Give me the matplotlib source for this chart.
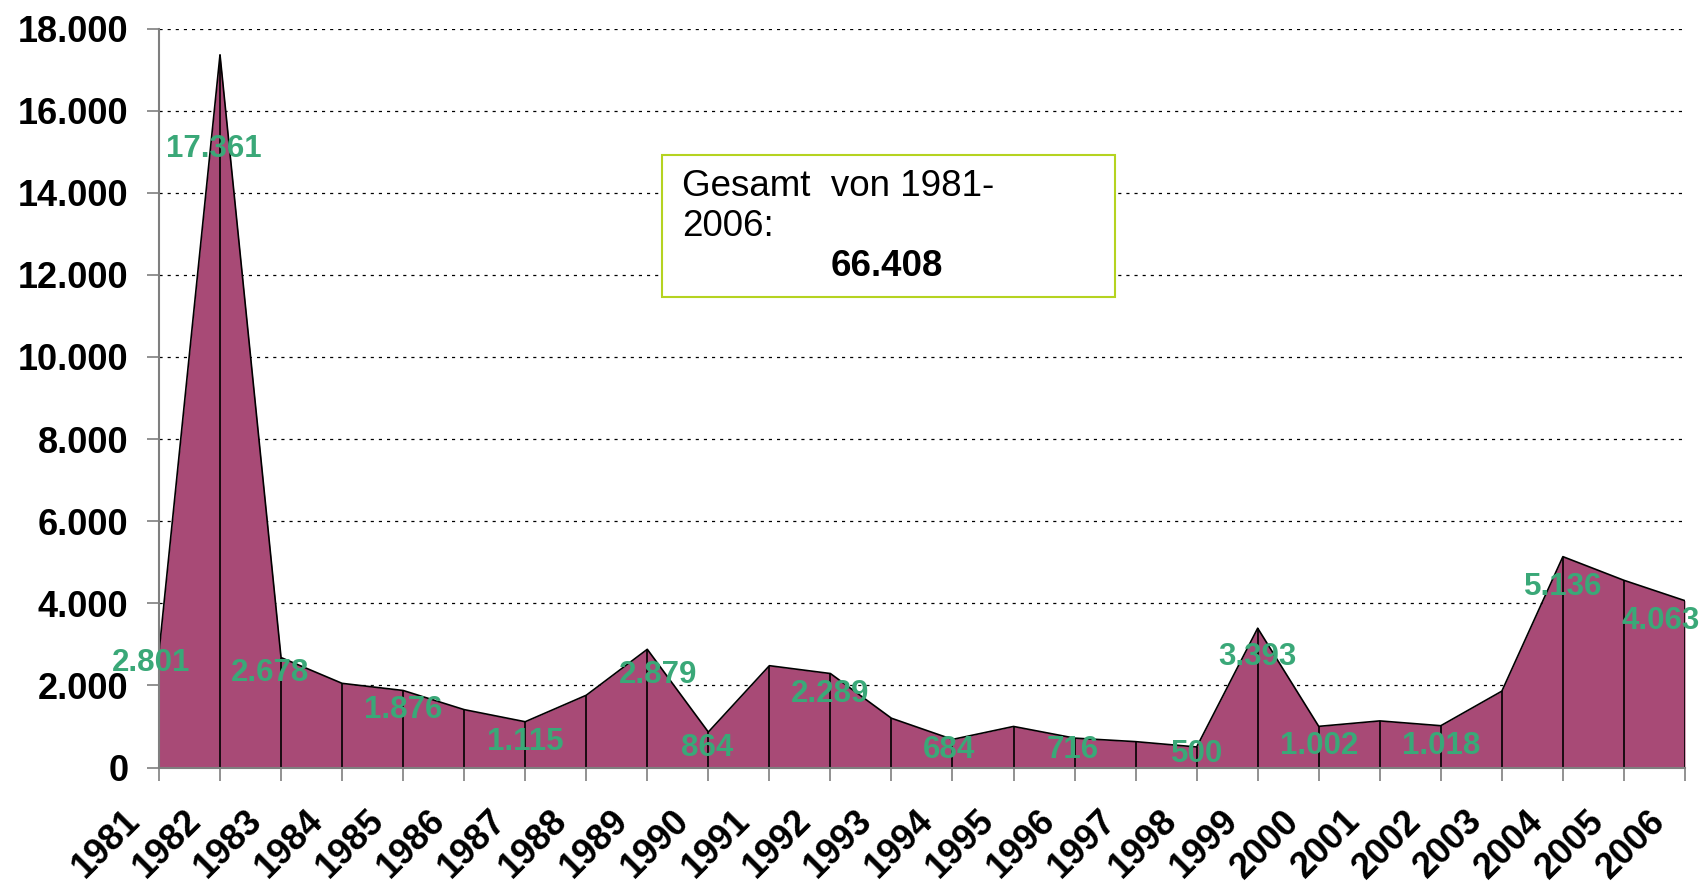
import numpy as np
import matplotlib
matplotlib.use('Agg')
import matplotlib.pyplot as plt
import matplotlib.transforms as mtransforms
from matplotlib.patches import Rectangle

plt.rcParams['font.family'] = ['Liberation Sans', 'DejaVu Sans']

years = list(range(1981, 2007))
values = [2801, 17361, 2678, 2050, 1876, 1410, 1115, 1760, 2879, 864,
          2480, 2289, 1200, 684, 1000, 716, 630, 500, 3393, 1002,
          1135, 1018, 1860, 5136, 4560, 4063]
# years that carry a value label in the original
labelled = [1981, 1982, 1983, 1985, 1987, 1989, 1990, 1992, 1994, 1996,
            1998, 1999, 2000, 2002, 2004, 2006]
total = 66408

fill_col = '#a84a76'
label_col = '#3aa878'

def de_fmt(v):
    return f'{v:,.0f}'.replace(',', '.')

fig = plt.figure(figsize=(17.02, 8.83), dpi=100)
ax = fig.add_axes([0.0934, 0.1308, 0.8966, 0.8369])

x = np.arange(len(years))
ax.fill_between(x, values, 0, color=fill_col, lw=0, zorder=2)
ax.plot(x, values, color='black', lw=1.2, zorder=3)
ax.vlines(x, 0, values, color='black', lw=1.2, zorder=3)

ax.set_xlim(0, len(years) - 1)
ax.set_ylim(0, 18000)
ax.set_yticks(np.arange(0, 18001, 2000))
ax.set_yticklabels([de_fmt(t) for t in np.arange(0, 18001, 2000)],
                   fontsize=26, fontweight='bold')
ax.set_xticks(x)
ax.set_xticklabels([])
# year labels drawn by hand so they can sit lower/left like the original
trans = mtransforms.blended_transform_factory(ax.transData, ax.transAxes)
trans = trans + mtransforms.ScaledTranslation(-0.37, -0.36, fig.dpi_scale_trans)
for i, yr in enumerate(years):
    ax.text(i, 0, str(yr), transform=trans, fontsize=26, fontweight='bold',
            rotation=45, ha='right', va='top', rotation_mode='anchor',
            clip_on=False)

ax.yaxis.grid(True, color='black', linestyle=(0, (2.5, 4)), lw=0.9)
ax.set_axisbelow(True)
for s in ['top', 'right']:
    ax.spines[s].set_visible(False)
for s in ['left', 'bottom']:
    ax.spines[s].set_color('#7f7f7f')
    ax.spines[s].set_linewidth(1.5)
    ax.spines[s].set_zorder(4)
ax.tick_params(axis='y', length=9, width=1.2, color='#7f7f7f', pad=13)
ax.tick_params(axis='x', length=9, width=1.2, color='#7f7f7f')

# label offsets in pixels (dx, dy); most sit ~20 px below their point
offsets = {1981: (-8, -10), 1982: (-6, -94), 1983: (-11, -15), 1989: (11, -26),
           1999: (0, -29), 2004: (0, -30), 2006: (-24, -20), 1998: (0, -7),
           1994: (-3, -11), 1996: (-2, -12), 1990: (-1, -16)}
for yr in labelled:
    i = years.index(yr)
    dx, dy = offsets.get(yr, (0, -20))
    ax.annotate(de_fmt(values[i]), (i, values[i]), xytext=(dx, dy),
                textcoords='offset pixels', ha='center', va='center',
                fontsize=22.5, fontweight='bold', color=label_col, zorder=5,
                annotation_clip=False)

# total box
W, H = 1702, 883
fig.patches.append(Rectangle((662 / W, 1 - 297 / H), (1115 - 662) / W, (297 - 155) / H,
                             transform=fig.transFigure, fill=True, facecolor='white',
                             edgecolor='#b5d320', lw=1.5, zorder=10))
fig.text(682 / W, 1 - 187 / H, 'Gesamt  von 1981-', fontsize=26.5,
         ha='left', va='center', zorder=11)
fig.text(682 / W, 1 - 227 / H, '2006:', fontsize=26.5,
         ha='left', va='center', zorder=11)
fig.text(887 / W, 1 - 266 / H, de_fmt(total), fontsize=26.5, fontweight='bold',
         ha='center', va='center', zorder=11)

fig.savefig('out.png', dpi=100)
